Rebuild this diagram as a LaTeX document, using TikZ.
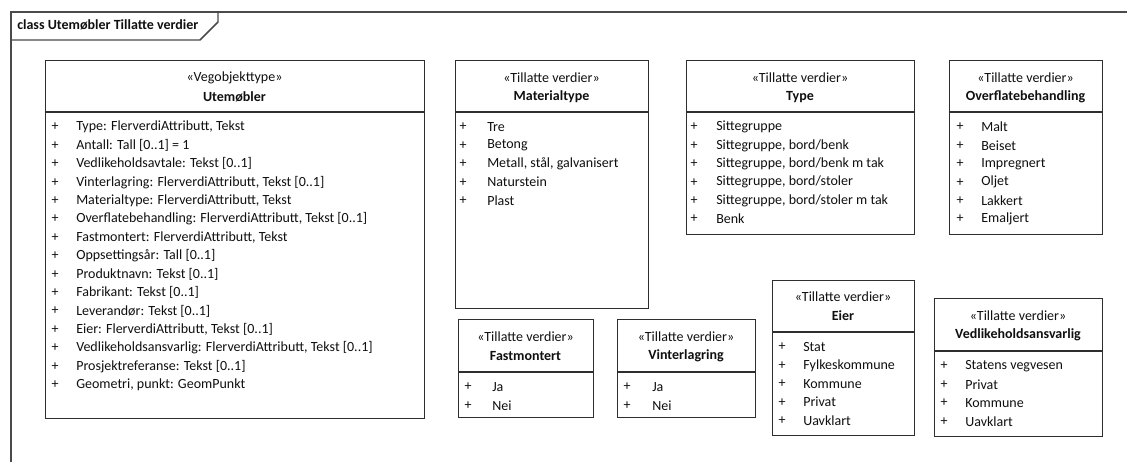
\documentclass[tikz,border=0pt]{standalone}
\usepackage{fontspec}
\setmainfont{Carlito}
\usepackage{tikz}
\usetikzlibrary{positioning}
\definecolor{umlline}{HTML}{2E2E2E}
\definecolor{frameline}{HTML}{4A4A4A}
\definecolor{umltext}{HTML}{101010}

\tikzset{
  classbox/.style={draw=umlline, line width=1.1pt, anchor=north west, inner sep=0pt, fill=white},
  classline/.style={draw=umlline, line width=1.1pt},
  stereo/.style={umltext, font=\fontsize{10.5}{12}\selectfont, inner sep=0pt},
  classname/.style={umltext, font=\fontsize{10.5}{12}\selectfont\bfseries, inner sep=0pt},
  plus/.style={umltext, font=\fontsize{10.5}{12}\selectfont, inner sep=0pt},
  attr/.style={umltext, font=\fontsize{10.5}{12}\selectfont, anchor=west, inner sep=0pt}
}

\begin{document}
\begin{tikzpicture}[x=0.75pt, y=-0.75pt]
  \useasboundingbox (0,0) rectangle (1127,461);
  \fill[white] (0,0) rectangle (1127,461);

  % Diagram frame with name tab
  \draw[frameline, line width=1.1pt] (11,470) -- (11,12) -- (1140,12);
  \draw[frameline, line width=1.1pt] (11,40) -- (200,40) -- (218,22) -- (218,12);
  \node[classname, anchor=west] (frametitle) at (17,25) {class Utemøbler Tillatte verdier};

  % Utemøbler (left)
  \node[classbox, minimum width=284.25pt, minimum height=268.5pt] (utemobler) at (45,60) {};
  \draw[classline] (45,112) -- (424,112);
  \node[stereo] (utemobler-st) at (234.5,78) {«Vegobjekttype»};
  \node[classname] (utemobler-nm) at (234.5,97) {Utemøbler};
  \foreach \txt [count=\i] in {{Type: FlerverdiAttributt, Tekst}, {Antall: Tall [0..1] = 1},
      {Vedlikeholdsavtale: Tekst [0..1]}, {Vinterlagring: FlerverdiAttributt, Tekst [0..1]},
      {Materialtype: FlerverdiAttributt, Tekst}, {Overflatebehandling: FlerverdiAttributt, Tekst [0..1]},
      {Fastmontert: FlerverdiAttributt, Tekst}, {Oppsettingsår: Tall [0..1]},
      {Produktnavn: Tekst [0..1]}, {Fabrikant: Tekst [0..1]}, {Leverandør: Tekst [0..1]},
      {Eier: FlerverdiAttributt, Tekst [0..1]}, {Vedlikeholdsansvarlig: FlerverdiAttributt, Tekst [0..1]},
      {Prosjektreferanse: Tekst [0..1]}, {Geometri, punkt: GeomPunkt}} {
    \node[plus] (utemobler-p\i) at (55,{127+18.4*(\i-1)}) {+};
    \node[attr] (utemobler-a\i) at (76,{127+18.4*(\i-1)}) {\txt};
  }

  % Materialtype
  \node[classbox, minimum width=144.75pt, minimum height=186pt] (materialtype) at (455,60) {};
  \draw[classline] (455,112) -- (648,112);
  \node[stereo] (materialtype-st) at (551.5,78) {«Tillatte verdier»};
  \node[classname] (materialtype-nm) at (551.5,97) {Materialtype};
  \foreach \txt [count=\i] in {Tre, Betong, {Metall, stål, galvanisert}, Naturstein, Plast} {
    \node[plus] (materialtype-p\i) at (463,{127+18.4*(\i-1)}) {+};
    \node[attr] (materialtype-a\i) at (487,{127+18.4*(\i-1)}) {\txt};
  }

  % Type
  \node[classbox, minimum width=171pt, minimum height=130.5pt] (type) at (686,60) {};
  \draw[classline] (686,112) -- (914,112);
  \node[stereo] (type-st) at (800,78) {«Tillatte verdier»};
  \node[classname] (type-nm) at (800,97) {Type};
  \foreach \txt [count=\i] in {Sittegruppe, {Sittegruppe, bord/benk}, {Sittegruppe, bord/benk m tak},
      {Sittegruppe, bord/stoler}, {Sittegruppe, bord/stoler m tak}, Benk} {
    \node[plus] (type-p\i) at (694,{127+18.4*(\i-1)}) {+};
    \node[attr] (type-a\i) at (716,{127+18.4*(\i-1)}) {\txt};
  }

  % Overflatebehandling
  \node[classbox, minimum width=114.75pt, minimum height=130.5pt] (overflate) at (949,60) {};
  \draw[classline] (949,112) -- (1102,112);
  \node[stereo] (overflate-st) at (1025.5,78) {«Tillatte verdier»};
  \node[classname] (overflate-nm) at (1025.5,97) {Overflatebehandling};
  \foreach \txt [count=\i] in {Malt, Beiset, Impregnert, Oljet, Lakkert, Emaljert} {
    \node[plus] (overflate-p\i) at (960,{127+18.4*(\i-1)}) {+};
    \node[attr] (overflate-a\i) at (981,{127+18.4*(\i-1)}) {\txt};
  }

  % Fastmontert
  \node[classbox, minimum width=101.25pt, minimum height=73.5pt] (fastmontert) at (458,319) {};
  \draw[classline] (458,372) -- (593,372);
  \node[stereo] (fastmontert-st) at (525.5,337) {«Tillatte verdier»};
  \node[classname] (fastmontert-nm) at (525.5,356) {Fastmontert};
  \foreach \txt [count=\i] in {Ja, Nei} {
    \node[plus] (fastmontert-p\i) at (468,{387+18.4*(\i-1)}) {+};
    \node[attr] (fastmontert-a\i) at (492,{387+18.4*(\i-1)}) {\txt};
  }

  % Vinterlagring
  \node[classbox, minimum width=103.5pt, minimum height=73.5pt] (vinterlagring) at (617,319) {};
  \draw[classline] (617,372) -- (755,372);
  \node[stereo] (vinterlagring-st) at (686,337) {«Tillatte verdier»};
  \node[classname] (vinterlagring-nm) at (686,356) {Vinterlagring};
  \foreach \txt [count=\i] in {Ja, Nei} {
    \node[plus] (vinterlagring-p\i) at (627,{387+18.4*(\i-1)}) {+};
    \node[attr] (vinterlagring-a\i) at (652,{387+18.4*(\i-1)}) {\txt};
  }

  % Eier
  \node[classbox, minimum width=106.5pt, minimum height=116.25pt] (eier) at (772,280) {};
  \draw[classline] (772,332) -- (914,332);
  \node[stereo] (eier-st) at (843,297) {«Tillatte verdier»};
  \node[classname] (eier-nm) at (843,316) {Eier};
  \foreach \txt [count=\i] in {Stat, Fylkeskommune, Kommune, Privat, Uavklart} {
    \node[plus] (eier-p\i) at (782,{347+18.4*(\i-1)}) {+};
    \node[attr] (eier-a\i) at (803,{347+18.4*(\i-1)}) {\txt};
  }

  % Vedlikeholdsansvarlig
  \node[classbox, minimum width=126pt, minimum height=103.5pt] (vedlikehold) at (934,298) {};
  \draw[classline] (934,351) -- (1102,351);
  \node[stereo] (vedlikehold-st) at (1018,316) {«Tillatte verdier»};
  \node[classname] (vedlikehold-nm) at (1018,335) {Vedlikeholdsansvarlig};
  \foreach \txt [count=\i] in {Statens vegvesen, Privat, Kommune, Uavklart} {
    \node[plus] (vedlikehold-p\i) at (944,{366+18.4*(\i-1)}) {+};
    \node[attr] (vedlikehold-a\i) at (965,{366+18.4*(\i-1)}) {\txt};
  }
\end{tikzpicture}
\end{document}
